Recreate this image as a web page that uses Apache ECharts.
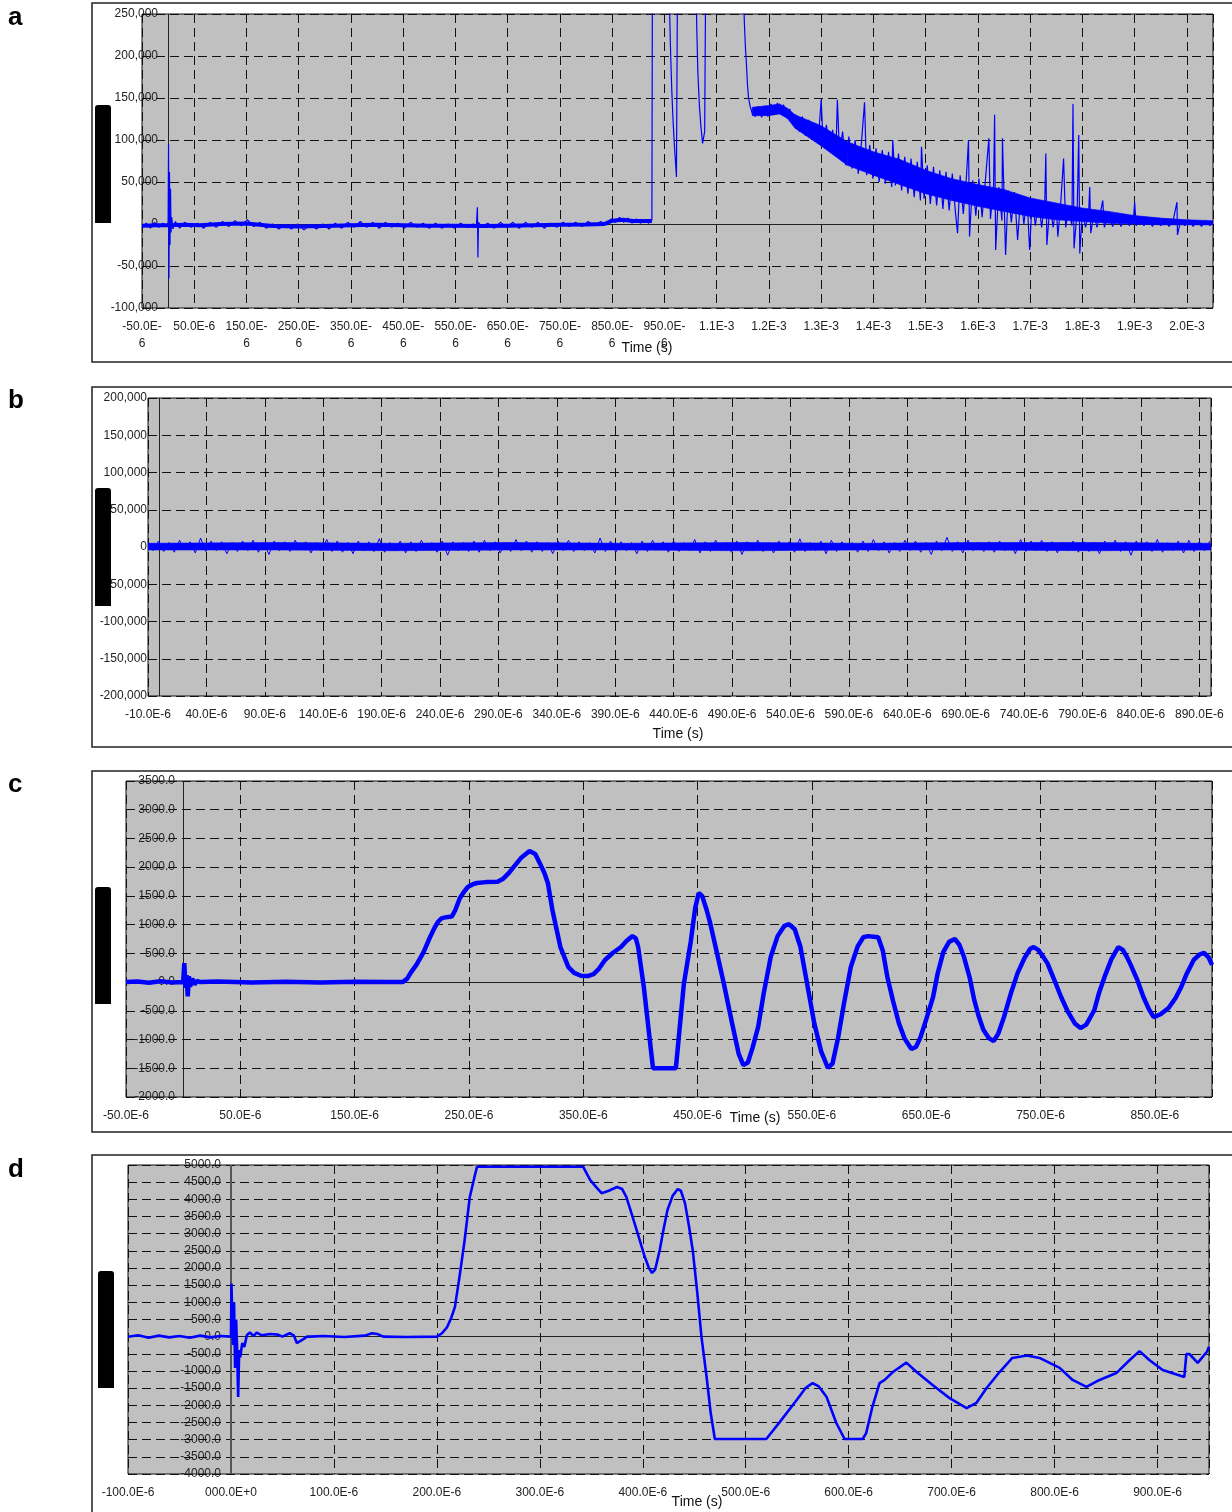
<!DOCTYPE html>
<html>
<head>
<meta charset="utf-8">
<title>Signals a-d</title>
<script src="https://cdn.jsdelivr.net/npm/echarts@6.0.0/dist/echarts.min.js"></script>
<style>
  html, body { margin: 0; padding: 0; background: #fff; }
  #chart { width: 1232px; height: 1512px; }
</style>
</head>
<body>
<div id="chart"></div>
<script>
// time values are in microseconds, a/b values in thousands

// ---- panel a ----
const aTickLabels = ['-50.0E-\n6', '50.0E-6', '150.0E-\n6', '250.0E-\n6', '350.0E-\n6', '450.0E-\n6',
  '550.0E-\n6', '650.0E-\n6', '750.0E-\n6', '850.0E-\n6', '950.0E-\n6', '1.1E-3', '1.2E-3', '1.3E-3',
  '1.4E-3', '1.5E-3', '1.6E-3', '1.7E-3', '1.8E-3', '1.9E-3', '2.0E-3']
const aBaseline = [[-50, -2], [-20, -1.5], [0, -1.5], [30, -1], [60, -1.5], [100, 0], [150, 0.5], [200, -2.5],
  [250, -3], [300, -2.5], [350, -1.5], [400, -1], [450, -1.5], [500, -2], [550, -2], [600, -2.5], [650, -2],
  [700, -1.5], [750, -1], [800, -0.5], [835, 0], [850, 4], [870, 5], [890, 3.5], [926, 3.5]]
// dense core of the decaying noise: [time, low, high]
const aDecayCore = [[1118, 129, 139], [1150, 129, 141], [1170, 131, 143], [1185, 126, 138], [1200, 114, 130],
  [1250, 93, 117], [1300, 70, 98], [1350, 58, 86], [1400, 47, 77], [1450, 36, 64], [1500, 28, 54],
  [1550, 21, 47], [1600, 15, 41], [1650, 9, 31], [1700, 5, 25], [1750, 3, 19], [1800, 1, 15], [1850, 0, 10],
  [1900, -1, 7], [1950, -1, 5], [2000, -1, 4]]
const aTrace = [
  [-50, -4], [-42, 1], [-34, -5], [-26, 2], [-18, -4], [-10, 1], [-4, -3], [0, 2], [0.8, 95], [1.6, -65],
  [2.6, 62], [3.6, -25], [4.6, 42], [5.6, -10], [7, 8], [9, -6], [14, 3], [22, -5], [32, 2], [44, -4],
  [56, 1], [68, -5], [80, 2], [92, -4], [104, 3], [116, -3], [128, 4], [140, -2], [152, 5], [164, -3],
  [176, 2], [188, -5], [200, 0], [212, -6], [224, -1], [236, -6], [248, 0], [260, -7], [272, -1], [284, -6],
  [296, 0], [308, -6], [320, 1], [332, -5], [344, 2], [356, -4], [368, 3], [380, -4], [392, 2], [404, -5],
  [416, 2], [428, -4], [440, 1], [452, -5], [464, 2], [476, -4], [488, 1], [500, -5], [512, 1], [524, -5],
  [536, 0], [548, -5], [560, 1], [572, -4], [584, 0], [590, -2], [592, 20], [593, -40], [594, 2], [600, -3],
  [612, 1], [624, -5], [636, 2], [648, -4], [660, 2], [672, -5], [684, 2], [696, -4], [708, 2], [720, -5],
  [732, 1], [744, -4], [756, 2], [768, -3], [780, 2], [792, -3], [804, 3], [816, -2], [828, 3], [840, -1],
  [848, 6], [856, 2], [864, 8], [872, 2], [880, 7], [888, 1], [896, 6], [904, 1], [912, 5], [920, 1],
  [926, 5], [927, 300], [958, 300], [960, 250], [962, 200], [964, 160], [966, 130], [968, 105], [970, 85],
  [972, 66], [973, 56], [974, 58], [975, 300], [1010, 300], [1012, 230], [1014, 180], [1017, 140],
  [1020, 115], [1023, 96], [1025, 98], [1027, 110], [1029, 300], [1100, 300], [1103, 240], [1105, 210],
  [1107, 190], [1109, 165], [1111, 150], [1114, 140], [1118, 132],
  [1124, 128], [1130, 140], [1136, 127], [1142, 141], [1148, 128], [1154, 143], [1160, 130], [1166, 144],
  [1172, 131], [1178, 142], [1184, 126], [1190, 137], [1196, 118], [1202, 130], [1208, 110], [1214, 128],
  [1220, 105], [1226, 124], [1232, 100], [1238, 120], [1244, 96], [1250, 148], [1254, 92], [1260, 118],
  [1266, 88], [1272, 112], [1278, 80], [1281, 148], [1285, 84], [1291, 110], [1297, 70], [1303, 104],
  [1309, 66], [1315, 100], [1321, 60], [1327, 96], [1333, 145], [1337, 58], [1343, 94], [1349, 54],
  [1355, 90], [1361, 50], [1367, 88], [1373, 48], [1379, 86], [1385, 44], [1387, 100], [1392, 46],
  [1398, 84], [1404, 40], [1410, 80], [1416, 36], [1422, 78], [1428, 32], [1434, 74], [1440, 28],
  [1442, 92], [1447, 30], [1453, 70], [1459, 24], [1465, 68], [1471, 22], [1477, 64], [1483, 18],
  [1489, 62], [1495, 16], [1501, 60], [1507, 14], [1511, -11], [1516, 58], [1522, 12], [1528, 56],
  [1532, 100], [1534, -15], [1540, 52], [1546, 10], [1552, 54], [1558, 8], [1564, 50], [1571, 102],
  [1574, 6], [1580, 46], [1582, 130], [1584, -31], [1590, 44], [1596, 4], [1597, 102], [1603, -37],
  [1608, 40], [1614, 2], [1620, 38], [1626, -19], [1632, 34], [1638, 0], [1644, 32], [1649, -31],
  [1654, 30], [1660, -2], [1666, 28], [1672, -4], [1678, 26], [1680, 84], [1682, -25], [1688, 24],
  [1694, -4], [1700, 22], [1703, -15], [1708, 20], [1714, 78], [1718, -4], [1724, 18], [1730, -2],
  [1732, 143], [1734, -29], [1740, 16], [1743, 106], [1745, -35], [1750, 14], [1756, -4], [1762, 14],
  [1764, 44], [1766, -11], [1772, 12], [1778, -4], [1784, 12], [1789, 28], [1792, -4], [1800, 11],
  [1808, -3], [1816, 10], [1824, -3], [1832, 9], [1840, -2], [1848, 8], [1850, 26], [1853, -2],
  [1860, 7], [1868, -2], [1876, 6], [1884, -3], [1892, 6], [1900, -2], [1908, 5], [1916, -3],
  [1924, 5], [1931, 26], [1932, -13], [1938, 4], [1946, -2], [1954, 5], [1962, -3], [1970, 4],
  [1978, -3], [1986, 4], [1994, -2], [2000, 3]
]

// ---- panel b ----
const bTickLabels = ['-10.0E-6', '40.0E-6', '90.0E-6', '140.0E-6', '190.0E-6', '240.0E-6', '290.0E-6',
  '340.0E-6', '390.0E-6', '440.0E-6', '490.0E-6', '540.0E-6', '590.0E-6', '640.0E-6', '690.0E-6',
  '740.0E-6', '790.0E-6', '840.0E-6', '890.0E-6']
const bCore = [[-10, -4, 5], [100, -4, 6], [200, -5, 5], [300, -4, 6], [400, -4, 5], [500, -5, 6],
  [600, -4, 5], [700, -4, 6], [800, -5, 6], [900, -4, 5]]
const bNoiseStart = -10
const bNoiseStep = 4.5
const bNoise = [
  7, -5, 8, -6, 6, -7, 9, -4, 7, -8, 12, -6, 8, -5, 7, -9, 6, -6, 8, -5,
  9, -7, 6, -10, 8, -5, 7, -6, 9, -4, 7, -8, 6, -5, 10, -6, 8, -7, 6, -9,
  8, -5, 7, -6, 11, -7, 6, -5, 8, -8, 7, -6, 9, -4, 6, -7, 8, -11, 7, -5,
  6, -6, 8, -7, 9, -5, 7, -8, 6, -6, 10, -5, 8, -7, 7, -6, 6, -9, 8, -5,
  9, -6, 7, -5, 6, -8, 12, -6, 8, -7, 7, -5, 6, -9, 8, -6, 9, -4, 7, -7,
  8, -6, 6, -5, 10, -8, 7, -6, 9, -5, 6, -7, 8, -10, 7, -5, 9, -6, 6, -8,
  8, -5, 7, -7, 11, -6, 6, -5, 8, -9, 9, -6, 7, -4, 6, -7, 8, -6, 10, -5,
  7, -8, 6, -6, 9, -5, 8, -7, 6, -10, 8, -5, 13, -6, 7, -8, 9, -5, 6, -6,
  7, -7, 8, -5, 6, -9, 10, -6, 8, -5, 9, -6, 7, -8, 6, -5, 8, -7, 7, -6,
  6, -9, 8, -5, 9, -6, 7, -11, 8, -5, 7, -6, 10, -7, 6, -5, 8, -8, 9, -6,
  7, -5, 8
]

// ---- panel c ----
const cTickLabels = ['-50.0E-6', '50.0E-6', '150.0E-6', '250.0E-6', '350.0E-6', '450.0E-6', '550.0E-6',
  '650.0E-6', '750.0E-6', '850.0E-6']
const cTrace = [
  [-50, 0], [-40, 10], [-30, -10], [-20, 15], [-10, -5], [0, 0], [1, 330], [2, -100], [3, 120], [4, -250],
  [5, 100], [6, -80], [8, 60], [10, -40], [12, 20], [15, 0], [30, 10], [60, -5], [90, 5], [120, -5],
  [150, 5], [180, 0], [192, 0], [196, 60], [199, 160], [204, 300], [210, 510], [216, 785], [220, 950],
  [223, 1050], [226, 1110], [230, 1130], [235, 1140], [238, 1250], [242, 1460], [246, 1580], [249, 1655],
  [253, 1700], [257, 1725], [265, 1740], [275, 1745], [280, 1800], [285, 1900], [289, 2000], [296, 2170],
  [303, 2280], [308, 2230], [312, 2070], [316, 1900], [319, 1725], [323, 1255], [330, 610], [337, 260],
  [342, 160], [348, 110], [354, 105], [359, 140], [364, 240], [369, 385], [376, 510], [383, 610],
  [388, 720], [393, 800], [396, 760], [398, 610], [403, -90], [411, -1500], [431, -1500], [438, -30],
  [444, 700], [448, 1300], [451, 1550], [454, 1500], [458, 1250], [461, 1030], [467, 500], [473, -30],
  [480, -700], [486, -1250], [490, -1445], [494, -1400], [498, -1150], [503, -780], [508, -180], [514, 440],
  [520, 800], [526, 980], [530, 1010], [535, 920], [540, 610], [546, -50], [552, -710], [558, -1200],
  [564, -1495], [568, -1420], [573, -960], [578, -380], [584, 260], [590, 620], [595, 780], [599, 800],
  [604, 790], [608, 780], [612, 550], [616, 90], [621, -330], [626, -710], [631, -980], [637, -1165],
  [641, -1130], [645, -960], [650, -650], [656, -260], [660, 150], [665, 525], [670, 700], [675, 750],
  [679, 650], [683, 440], [688, 80], [692, -310], [696, -600], [700, -830], [705, -980], [709, -1025],
  [713, -900], [718, -610], [724, -200], [730, 160], [736, 420], [741, 580], [744, 610], [748, 560],
  [752, 450], [756, 330], [762, 40], [768, -260], [774, -520], [780, -720], [785, -800], [790, -740],
  [797, -490], [801, -200], [806, 90], [812, 400], [818, 610], [822, 560], [826, 420], [829, 295],
  [835, 20], [840, -260], [845, -480], [849, -610], [855, -560], [862, -450], [868, -280], [873, -90],
  [878, 150], [884, 385], [889, 480], [893, 510], [897, 430], [900, 300]
]

// ---- panel d ----
const dTickLabels = ['-100.0E-6', '000.0E+0', '100.0E-6', '200.0E-6', '300.0E-6', '400.0E-6', '500.0E-6',
  '600.0E-6', '700.0E-6', '800.0E-6', '900.0E-6']
const dTrace = [
  [-100, 0], [-90, 40], [-80, -30], [-70, 30], [-60, -20], [-50, 20], [-40, -30], [-30, 30], [-20, -20],
  [-10, 20], [0, 0], [0.5, 1550], [1, 900], [2, -240], [3, 1000], [4, -910], [5, 500], [6, -390],
  [7, -1760], [8, -390], [9, -600], [11, -185], [13, -300], [15.5, 50], [18.4, 120], [22, 20], [25, 120],
  [30, 40], [38, 80], [45.6, 60], [50, 0], [57, 100], [61, 40], [64, -185], [65, -200], [70, -80], [74, 0],
  [77, 0], [90, 20], [110, -10], [130, 30], [137, 100], [142, 80], [148, 0], [170, -10], [200, 0],
  [205, 100], [210, 280], [214, 550], [217.5, 860], [222, 1740], [227, 2815], [232, 4070], [237, 4710],
  [239, 4950], [342, 4950], [349, 4560], [355, 4350], [360, 4180], [367, 4250], [375, 4360], [380, 4300],
  [384, 4070], [389, 3600], [394, 3110], [402, 2320], [406, 2000], [409, 1855], [412, 1950], [416.5, 2525],
  [420, 3100], [424, 3690], [429, 4100], [434, 4300], [437, 4250], [441, 3890], [445, 3200], [448.5, 2525],
  [453, 1270], [457, 0], [462, -1175], [466, -2225], [470, -2980], [520, -2980], [533, -2490],
  [549.5, -1845], [558, -1500], [565, -1350], [571, -1450], [578.6, -1760], [588, -2515], [596, -2980],
  [613.6, -2980], [617, -2810], [623, -2050], [630, -1350], [635, -1260], [643, -1030], [656, -755],
  [666, -1030], [681.5, -1410], [698, -1790], [714.6, -2080], [724, -1930], [734, -1495], [746.6, -1030],
  [759, -620], [773, -550], [785.4, -620], [805, -910], [817.5, -1260], [831, -1465], [843.7, -1260],
  [860, -1060], [873, -680], [882.5, -420], [892, -680], [905, -970], [926, -1175], [928, -505],
  [931, -505], [939, -765], [948, -440], [950, -290]
]

const BLUE = '#0000ff'
const FONT = '"Liberation Sans", Arial, Helvetica, sans-serif'
const GRID_LINE = { color: '#111', width: 1, type: [9, 5] }

const thousands = v => (v === 0 ? '0' : v + ',000')
const oneDecimal = v => v.toFixed(1)

const bNoiseTrace = bNoise.map((v, i) => [bNoiseStart + i * bNoiseStep, v])

const panels = [
  {
    letter: 'a', grid: { left: 142, top: 14, width: 1071, height: 294 },
    xMin: -50, xMax: 2000, xStep: 100, xLabels: aTickLabels,
    yMin: -100, yMax: 250, yStep: 50, yFmt: thousands, yMargin: -16,
    frame: { y: 3, height: 359 }, block: { x: 95, y: 105, h: 118 }, letterY: 18, titleX: 647, titleY: 348,
    zeroX: { color: '#222', width: 1 },
    bands: [aDecayCore],
    traces: [
      { data: aBaseline, width: 4 },
      { data: aTrace, width: 1.2 }
    ]
  },
  {
    letter: 'b', grid: { left: 148, top: 398, width: 1063, height: 298 },
    xMin: -10, xMax: 900, xStep: 50, xLabels: bTickLabels,
    yMin: -200, yMax: 200, yStep: 50, yFmt: thousands, yMargin: 1,
    frame: { y: 387, height: 360 }, block: { x: 95, y: 488, h: 118 }, letterY: 401, titleX: 678, titleY: 734,
    zeroX: { color: '#222', width: 1 },
    bands: [bCore],
    traces: [{ data: bNoiseTrace, width: 1 }]
  },
  {
    letter: 'c', grid: { left: 126, top: 781, width: 1086, height: 316 },
    xMin: -50, xMax: 900, xStep: 100, xLabels: cTickLabels,
    yMin: -2000, yMax: 3500, yStep: 500, yFmt: oneDecimal, yMargin: -49,
    frame: { y: 771, height: 361 }, block: { x: 95, y: 887, h: 117 }, letterY: 785, titleX: 755, titleY: 1118,
    zeroX: { color: '#222', width: 1 },
    bands: [],
    traces: [{ data: cTrace, width: 4.5 }]
  },
  {
    letter: 'd', grid: { left: 128, top: 1165, width: 1081, height: 309 },
    xMin: -100, xMax: 950, xStep: 100, xLabels: dTickLabels,
    yMin: -4000, yMax: 5000, yStep: 500, yFmt: oneDecimal, yMargin: -93,
    frame: { y: 1155, height: 400 }, block: { x: 98, y: 1271, h: 117 }, letterY: 1170, titleX: 697, titleY: 1502,
    zeroX: { color: '#555', width: 2 },
    bands: [],
    traces: [{ data: dTrace, width: 2.6 }]
  }
]

const tickLabel = (labels, step) => v => {
  const i = Math.round(v / step)
  if (Math.abs(v - i * step) > 1e-6) return ''
  return labels[i] !== undefined ? labels[i] : ''
}

// filled noise core between a low and a high envelope
const bandSeries = (rows, p, i) => {
  const data = rows.map(r => [r[0] - p.xMin, r[1], r[2]])
  return {
    type: 'custom', xAxisIndex: i, yAxisIndex: 2 * i, silent: true, z: 4, clip: true,
    encode: { x: 0, y: [1, 2] },
    data,
    renderItem: (params, api) => {
      const k = params.dataIndex
      if (k >= data.length - 1) return null
      const a = data[k]
      const b = data[k + 1]
      const pts = [api.coord([a[0], a[1]]), api.coord([b[0], b[1]]), api.coord([b[0], b[2]]), api.coord([a[0], a[2]])]
      return { type: 'polygon', shape: { points: pts }, style: { fill: BLUE, stroke: BLUE, lineWidth: 0.6 } }
    }
  }
}

const grid = []
const xAxis = []
const yAxis = []
const series = []
const graphic = []

panels.forEach((p, i) => {
  grid.push(Object.assign({
    show: true, backgroundColor: '#c0c0c0', borderColor: '#111', borderWidth: 1,
    containLabel: false, outerBoundsMode: 'none', z: 0
  }, p.grid))

  // x data are shifted so that ticks start at the panel's first label
  xAxis.push({
    gridIndex: i, type: 'value', min: 0, max: p.xMax - p.xMin, interval: p.xStep,
    axisLine: { show: false }, axisTick: { show: false },
    axisLabel: {
      color: '#222', fontFamily: FONT, fontSize: 12, lineHeight: 17, margin: 10,
      formatter: tickLabel(p.xLabels, p.xStep)
    },
    splitLine: { show: true, lineStyle: GRID_LINE },
    z: 2
  })

  // labels-only axis drawn under the grid lines
  yAxis.push({
    gridIndex: i, type: 'value', position: 'left', min: p.yMin, max: p.yMax, interval: p.yStep,
    axisLine: { show: false }, axisTick: { show: false }, splitLine: { show: false },
    axisLabel: { color: '#222', fontFamily: FONT, fontSize: 12, margin: p.yMargin, formatter: p.yFmt },
    z: 1
  })
  yAxis.push({
    gridIndex: i, type: 'value', position: 'left', min: p.yMin, max: p.yMax, interval: p.yStep,
    axisLine: { show: false },
    axisTick: { show: true, inside: true, length: 5, lineStyle: { color: '#111' } },
    axisLabel: { show: false },
    splitLine: { show: true, lineStyle: GRID_LINE },
    z: 2
  })

  series.push({
    type: 'line', xAxisIndex: i, yAxisIndex: 2 * i, data: [], silent: true, z: 3,
    markLine: {
      z: 3, silent: true, symbol: ['none', 'none'], label: { show: false }, animation: false,
      data: [
        { xAxis: -p.xMin, lineStyle: { color: p.zeroX.color, width: p.zeroX.width, type: 'solid' } },
        { yAxis: 0, lineStyle: { color: '#222', width: 1, type: 'solid' } }
      ]
    }
  })

  p.bands.forEach(rows => series.push(bandSeries(rows, p, i)))

  p.traces.forEach(tr => {
    series.push({
      type: 'line', xAxisIndex: i, yAxisIndex: 2 * i,
      data: tr.data.map(d => [d[0] - p.xMin, d[1]]),
      showSymbol: false, symbol: 'none', clip: true, silent: true, z: 4,
      lineStyle: { color: BLUE, width: tr.width }
    })
  })

  graphic.push({
    type: 'rect', z: -10, silent: true,
    shape: { x: 92, y: p.frame.y, width: 1200, height: p.frame.height },
    style: { fill: '#fff', stroke: '#222', lineWidth: 1.5 }
  })
  graphic.push({
    type: 'rect', z: 20, silent: true,
    shape: { x: p.block.x, y: p.block.y, width: 16, height: p.block.h, r: [3, 3, 0, 0] },
    style: { fill: '#000' }
  })
  graphic.push({
    type: 'text', z: 20, silent: true, x: 8, y: p.letterY,
    style: { text: p.letter, font: 'bold 26px ' + FONT, fill: '#000', verticalAlign: 'middle' }
  })
  graphic.push({
    type: 'text', z: 20, silent: true, x: p.titleX, y: p.titleY,
    style: { text: 'Time (s)', font: '14px ' + FONT, fill: '#111', align: 'center', verticalAlign: 'middle' }
  })
})

const chart = echarts.init(document.getElementById('chart'), null, { renderer: 'canvas' })
chart.setOption({
  animation: false,
  backgroundColor: '#fff',
  grid, xAxis, yAxis, series, graphic
})
</script>
</body>
</html>
